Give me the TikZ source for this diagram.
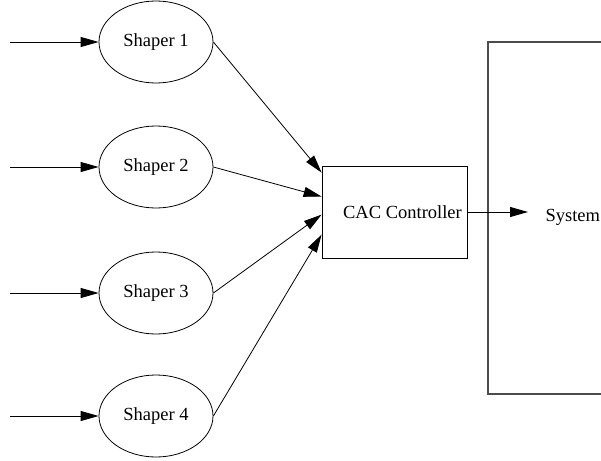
\documentclass[tikz,border=0pt]{standalone}
\usepackage{fontspec}
\setmainfont{Liberation Serif}
\usetikzlibrary{arrows.meta,shapes.geometric,calc}
\begin{document}
\begin{tikzpicture}[x=1pt,y=-1pt,
  txt/.style={font=\fontsize{18.5}{22}\selectfont},
  shaper/.style={draw, ellipse, line width=0.8pt, minimum width=114pt, minimum height=82pt, inner sep=0pt, txt},
  ctrl/.style={draw, rectangle, line width=0.8pt, minimum width=145pt, minimum height=92pt, inner sep=0pt},
  frame/.style={draw=black!70, line width=1.1pt},
  arr/.style={line width=0.8pt, -{Triangle[length=18pt,width=10pt]}}]
  \useasboundingbox (0,0) rectangle (601,460);
  \clip (0,0) rectangle (601,460);

  % outer system frame, running off the right edge
  \draw[frame] (640,42) -- (488,42) -- (488,394) -- (640,394);

  % traffic shapers
  \node[shaper] (s1) at (156,42)  {Shaper 1};
  \node[shaper] (s2) at (156,167) {Shaper 2};
  \node[shaper] (s3) at (156,293) {Shaper 3};
  \node[shaper] (s4) at (156,416) {Shaper 4};

  % admission controller, its caption set a little right of centre
  \node[ctrl] (cac) at (394.5,212) {};
  \node[txt] (cactext) at ([xshift=8pt]cac.center) {CAC Controller};
  \node[txt, anchor=west] (sys) at (542,217) {System};

  % incoming flows
  \coordinate (i1) at (10,42);
  \coordinate (i2) at (10,167);
  \coordinate (i3) at (10,293);
  \coordinate (i4) at (10,416);
  \draw[arr] (i1) -- (s1);
  \draw[arr] (i2) -- (s2);
  \draw[arr] (i3) -- (s3);
  \draw[arr] (i4) -- (s4);

  % shapers into the controller
  \draw[arr] (s1.east) -- ($(cac.north west)+(0,7)$);
  \draw[arr] (s2.east) -- ($(cac.north west)+(0,31)$);
  \draw[arr] (s3.east) -- ($(cac.north west)+(0,49)$);
  \draw[arr] (s4.east) -- ($(cac.north west)+(0,69)$);

  % controller output
  \coordinate (out) at (528,212);
  \draw[arr] (cac.east) -- (out);
\end{tikzpicture}
\end{document}
